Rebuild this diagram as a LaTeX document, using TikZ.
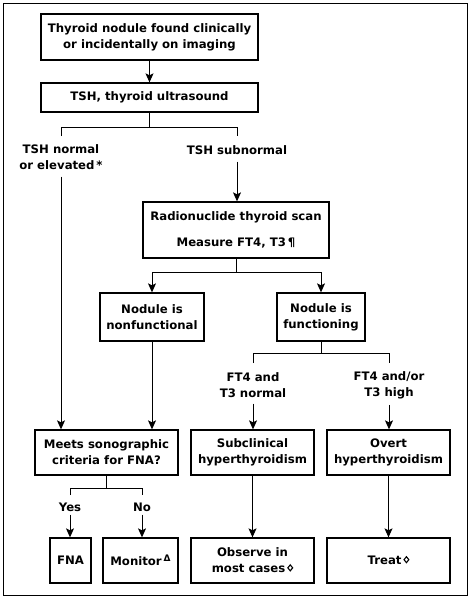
\documentclass[tikz,border=0pt]{standalone}
\usepackage{fontspec}
\setmainfont{DejaVu Sans}[BoldFont=DejaVu Sans Bold]
\usetikzlibrary{arrows.meta,calc}
\newcommand{\sym}[1]{\,\raisebox{4.5pt}{\fontsize{9}{9}\selectfont #1}}
\newcommand{\lozsym}{\,\raisebox{5pt}{\tikz[x=1pt,y=1pt,baseline=0pt]\draw[line width=1.1pt] (0,3) -- (2.4,0) -- (0,-3) -- (-2.4,0) -- cycle;}}
\begin{document}
\begin{tikzpicture}[x=1pt,y=-1pt,
  txt/.style={font=\bfseries\fontsize{11.7}{16}\selectfont},
  box/.style={txt,draw,line width=1.3pt,align=center,inner sep=0pt},
  lbl/.style={txt,align=center,inner sep=1pt},
  conn/.style={line width=1pt},
  arr/.style={conn,-{Stealth[length=9pt,width=8pt,inset=2pt]}}]
\useasboundingbox (0,0) rectangle (474,600);
\draw[line width=1pt] (3,3) rectangle (467,595);

% boxes
\node[box,minimum width=217pt,minimum height=46pt] (b1) at (149.5,37) {Thyroid nodule found clinically\\or incidentally on imaging};
\node[box,minimum width=217pt,minimum height=29pt] (b2) at (149.5,97.5) {TSH, thyroid ultrasound};
\node[box,minimum width=186pt,minimum height=56pt] (radio) at (236,230) {Radionuclide thyroid scan\\[10pt]Measure FT4, T3\,¶};
\node[box,minimum width=104pt,minimum height=48pt] (nonf) at (152,317) {Nodule is\\nonfunctional};
\node[box,minimum width=88pt,minimum height=48pt] (func) at (321,317) {Nodule is\\functioning};
\node[box,minimum width=143pt,minimum height=45pt] (meets) at (106.5,452.5) {Meets sonographic\\criteria for FNA?};
\node[box,minimum width=123pt,minimum height=45pt] (subc) at (252.5,452.5) {Subclinical\\hyperthyroidism};
\node[box,minimum width=123pt,minimum height=45pt] (overt) at (388.5,452.5) {Overt\\hyperthyroidism};
\node[box,minimum width=41pt,minimum height=45pt] (fna) at (70.5,560.5) {FNA};
\node[box,minimum width=75pt,minimum height=45pt] (mon) at (140.5,560.5) {Monitor\sym{Δ}};
\node[box,minimum width=123pt,minimum height=45pt] (obs) at (252.5,560.5) {Observe in\\most cases\lozsym};
\node[box,minimum width=123pt,minimum height=45pt] (treat) at (388.5,560.5) {Treat\lozsym};

% labels
\node[lbl] (tshn) at (61,157) {TSH normal\\or elevated\,*};
\node[lbl] (tshs) at (237,150) {TSH subnormal};
\node[lbl] (ftn) at (253,385) {FT4 and\\T3 normal};
\node[lbl] (fth) at (389,385) {FT4 and/or\\T3 high};
\node[lbl] (yes) at (70,507) {Yes};
\node[lbl] (no) at (142,507) {No};

% split points
\coordinate (s1) at (149.5,127);
\coordinate (s1l) at (61,127);
\coordinate (s1r) at (237,127);
\coordinate (s2) at (236,272);
\coordinate (s2l) at (152,272);
\coordinate (s2r) at (321,272);
\coordinate (s3) at (321,353);
\coordinate (s3l) at (253,353);
\coordinate (s3r) at (389,353);
\coordinate (s4) at (106.5,488);
\coordinate (s4l) at (70,488);
\coordinate (s4r) at (142,488);

% connectors
\draw[arr] (b1) -- (b2);
\draw[conn] (b2.south) -- (s1);
\draw[conn] ($(s1l)+(0,9)$) -- (s1l) -- (s1r) -- ($(s1r)+(0,9)$);
\draw[arr] ($(tshn.south)+(0,6)$) -- (tshn.south |- meets.north);
\draw[arr] ($(tshs.south)+(0,6)$) -- (tshs.south |- radio.north);
\draw[conn] (radio.south -| s2) -- (s2);
\draw[arr] (s2) -- (s2l) -- (nonf.north);
\draw[arr] (s2) -- (s2r) -- (func.north);
\draw[arr] (nonf.south) -- (nonf.south |- meets.north);
\draw[conn] (func.south) -- (s3);
\draw[conn] ($(s3l)+(0,10)$) -- (s3l) -- (s3r) -- ($(s3r)+(0,10)$);
\draw[arr] ($(ftn.south)+(0,5)$) -- (ftn.south |- subc.north);
\draw[arr] ($(fth.south)+(0,5)$) -- (fth.south |- overt.north);
\draw[arr] (subc) -- (obs);
\draw[arr] (overt) -- (treat);
\draw[conn] (meets.south) -- (s4);
\draw[conn] ($(s4l)+(0,7)$) -- (s4l) -- (s4r) -- ($(s4r)+(0,7)$);
\draw[arr] ($(yes.south)+(0,2)$) -- (yes.south |- fna.north);
\draw[arr] ($(no.south)+(0,2)$) -- (no.south |- mon.north);
\end{tikzpicture}
\end{document}
